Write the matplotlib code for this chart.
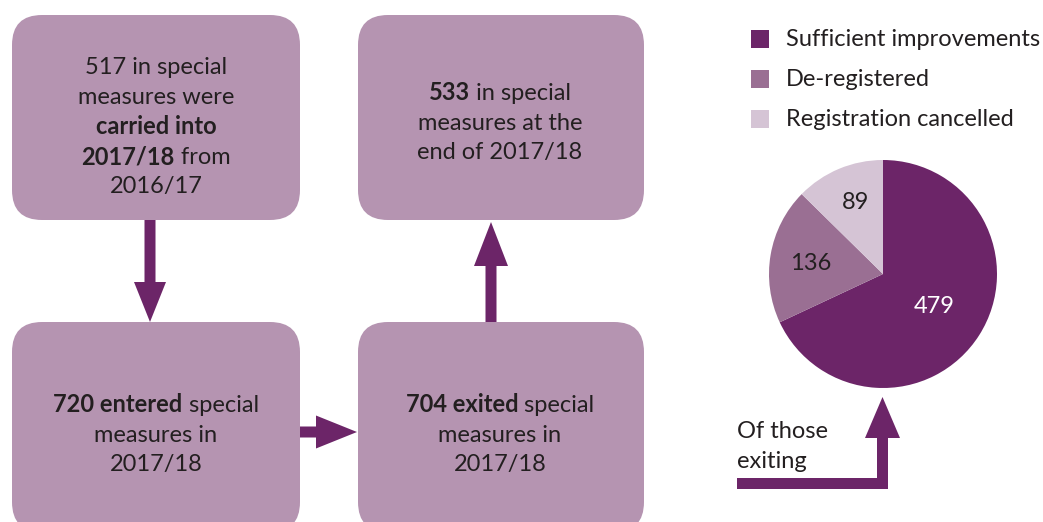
import numpy as np
import matplotlib.pyplot as plt
from matplotlib.patches import FancyBboxPatch, FancyArrow, Polygon

plt.rcParams['font.family'] = ['Lato', 'DejaVu Sans']

# data
carried_in = 517
entered = 720
exited = 704
end_year = 533
outcome_labels = ["Sufficient improvements", "De-registered", "Registration cancelled"]
outcome_values = [479, 136, 89]
outcome_colors = ["#6C2568", "#9A6F93", "#D5C4D5"]

box_color = "#B594B1"
arrow_color = "#6C2568"
text_color = "#231F20"
fs = 17

fig = plt.figure(figsize=(10.43, 5.22), dpi=100)
ax = fig.add_axes([0, 0, 1, 1])
ax.set_xlim(0, 1043)
ax.set_ylim(522, 0)
ax.axis('off')

renderer = fig.canvas.get_renderer()


def mixed_line(x, y, parts):
    # parts: list of (text, bold); draw centred on x
    texts = []
    for s, b in parts:
        t = ax.text(0, y, s, fontsize=fs, color=text_color, ha='left', va='center',
                    fontweight='bold' if b else 'normal')
        texts.append(t)
    widths = [t.get_window_extent(renderer).width for t in texts]
    cur = x - sum(widths) / 2
    for t, w in zip(texts, widths):
        t.set_x(cur)
        cur += w


def box(x0, y0, w, h, lines, cx, ys):
    ax.add_patch(FancyBboxPatch((x0, y0), w, h, boxstyle="round,pad=0,rounding_size=30",
                                fc=box_color, ec='none'))
    for parts, yy in zip(lines, ys):
        mixed_line(cx, yy, parts)


box(12, 15, 288, 205,
    [[(f"{carried_in} in special", False)],
     [("measures were", False)],
     [("carried into", True)],
     [("2017/18", True), (" from", False)],
     [("2016/17", False)]],
    156, [67, 97, 127, 157, 186])

box(358, 15, 286, 205,
    [[(f"{end_year}", True), (" in special", False)],
     [("measures at the", False)],
     [("end of 2017/18", False)]],
    500, [93, 123, 153])

box(12, 322, 288, 210,
    [[(f"{entered} entered", True), (" special", False)],
     [("measures in", False)],
     [("2017/18", False)]],
    156, [405, 435, 464])

box(358, 322, 286, 210,
    [[(f"{exited} exited", True), (" special", False)],
     [("measures in", False)],
     [("2017/18", False)]],
    500, [405, 435, 464])

# arrows between boxes
ax.add_patch(FancyArrow(150, 220, 0, 102, width=11, head_width=32, head_length=40,
                        length_includes_head=True, fc=arrow_color, ec='none'))
ax.add_patch(FancyArrow(300, 432, 57, 0, width=11, head_width=33, head_length=41,
                        length_includes_head=True, fc=arrow_color, ec='none'))
ax.add_patch(FancyArrow(491, 322, 0, -100, width=11, head_width=34, head_length=44,
                        length_includes_head=True, fc=arrow_color, ec='none'))

# L-shaped arrow into the pie
ax.add_patch(Polygon([(737, 478), (877, 478), (877, 438), (865, 438), (882.5, 397),
                      (900, 438), (888, 438), (888, 489), (737, 489)],
                     closed=True, fc=arrow_color, ec='none'))
ax.text(737, 431, "Of those", fontsize=fs, color=text_color, ha='left', va='center')
ax.text(737, 461, "exiting", fontsize=fs, color=text_color, ha='left', va='center')

# legend
for i, (lab, col) in enumerate(zip(outcome_labels, outcome_colors)):
    yy = 39 + i * 40
    ax.add_patch(plt.Rectangle((751, yy - 9), 18, 18, fc=col, ec='none'))
    ax.text(786, yy + 1, lab, fontsize=fs, color=text_color, ha='left', va='center')

# pie
cx, cy, r = 883, 274, 114
pax = fig.add_axes([(cx - r) / 1043, (522 - cy - r) / 522, 2 * r / 1043, 2 * r / 522])
wedges, _ = pax.pie(outcome_values, colors=outcome_colors, startangle=90,
                    counterclock=False, wedgeprops=dict(linewidth=0))
pax.set_xlim(-1, 1)
pax.set_ylim(-1, 1)
pax.set_aspect('equal')

total = sum(outcome_values)
start = 90
dists = [0.50, 0.67, 0.70]
tcols = ['white', text_color, text_color]
for v, d, tc in zip(outcome_values, dists, tcols):
    ang = np.deg2rad(start - v / total * 180)
    pax.text(d * np.cos(ang) + 0.03, d * np.sin(ang) - 0.02, str(v), fontsize=fs,
             color=tc, ha='center', va='center')
    start -= v / total * 360

fig.savefig("out.png", dpi=100)
